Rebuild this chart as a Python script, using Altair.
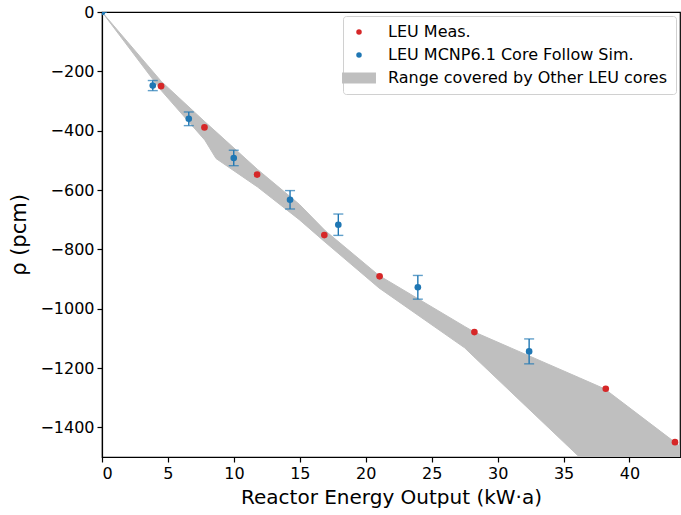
import altair as alt
import pandas as pd

# LEU measured points
meas_x = [4.48, 7.77, 11.76, 16.86, 21.05, 28.24, 38.2, 43.45]
meas_y = [-250, -389, -548, -752, -891, -1079, -1270, -1450]

# MCNP6.1 core follow simulation with error bars
sim_x = [0.0, 3.85, 6.58, 9.99, 14.26, 17.92, 23.95, 32.39]
sim_y = [0, -248, -360, -492, -633, -717, -928, -1144]
sim_err = [0, 17, 23, 26, 31, 36, 40, 42]

# Range covered by other LEU cores (band)
band_x = [0, 4.5, 7.8, 8.65, 11.8, 14.96, 16.9, 21.0, 27.5, 28.2, 36.2, 38.1, 43.4, 44.0]
band_upper = [0, -234, -370, -404, -531, -648, -736, -888, -1060, -1078, -1233, -1270, -1449, -1470]
band_lower = [0, -265, -432, -494, -590, -700, -775, -930, -1132, -1162, -1500, -1581, -1807, -1834]

labels = ["LEU Meas.", "LEU MCNP6.1 Core Follow Sim.", "Range covered by Other LEU cores"]
colors = ["#d62728", "#1f77b4", "#bfbfbf"]
x_ticks = [0, 5, 10, 15, 20, 25, 30, 35, 40]
y_ticks = [0, -200, -400, -600, -800, -1000, -1200, -1400]

FONT = "DejaVu Sans"

pts = pd.DataFrame({
    "x": meas_x + sim_x,
    "y": meas_y + sim_y,
    "series": [labels[0]] * len(meas_x) + [labels[1]] * len(sim_x),
})
sim = pd.DataFrame({"x": sim_x, "y": sim_y, "err": sim_err})
sim["lo"] = sim["y"] - sim["err"]
sim["hi"] = sim["y"] + sim["err"]
band = pd.DataFrame({"x": band_x, "up": band_upper, "lo": band_lower})

xs = alt.Scale(domain=[0, 43.83], nice=False, zero=False)
ys = alt.Scale(domain=[-1500, 0], nice=False, zero=False)

xax = alt.Axis(values=x_ticks, title="Reactor Energy Output (kW·a)", grid=False,
               format="d", tickSize=5, labelPadding=3, titlePadding=6)
yax = alt.Axis(values=y_ticks, title="ρ (pcm)", grid=False, format="d",
               tickSize=5, labelPadding=3, titlePadding=10)

area = alt.Chart(band).mark_area(clip=True, color="#bfbfbf", opacity=1,
                                 stroke="#bfbfbf", strokeWidth=1).encode(
    x=alt.X("x:Q", scale=xs, axis=xax),
    y=alt.Y("up:Q", scale=ys, axis=yax),
    y2="lo:Q",
)

rules = alt.Chart(sim).mark_rule(color="#1f77b4", strokeWidth=1.4, clip=True).encode(
    x="x:Q", y="lo:Q", y2="hi:Q"
)
caps_lo = alt.Chart(sim).mark_tick(color="#1f77b4", orient="horizontal", size=10,
                                   thickness=1.4, clip=True).encode(x="x:Q", y="lo:Q")
caps_hi = alt.Chart(sim).mark_tick(color="#1f77b4", orient="horizontal", size=10,
                                   thickness=1.4, clip=True).encode(x="x:Q", y="hi:Q")

points = alt.Chart(pts).mark_point(filled=True, opacity=1, clip=True, size=44).encode(
    x="x:Q",
    y="y:Q",
    color=alt.Color("series:N", scale=alt.Scale(domain=labels, range=colors),
                    legend=alt.Legend(title=None, orient="top-right", symbolSize=30)),
    shape=alt.Shape("series:N", scale=alt.Scale(
        domain=labels, range=["circle", "circle", "M-6.2,-2H6.2V2H-6.2Z"]),
        legend=alt.Legend(title=None, orient="top-right", symbolSize=30)),
)

chart = alt.layer(area, rules, caps_lo, caps_hi, points).properties(
    width=578, height=445,
    autosize=alt.AutoSizeParams(type="none"),
    padding={"left": 102, "top": 12, "right": 1, "bottom": 58},
).configure_view(stroke="#000", strokeWidth=1.2).configure_axis(
    labelFont=FONT, titleFont=FONT, labelFontSize=16, titleFontSize=20,
    labelColor="#000", titleColor="#000", titleFontWeight="normal",
    domainColor="#000", tickColor="#000", domainWidth=1.2, tickWidth=1.2,
).configure_axisY(titleFontSize=21).configure_legend(
    labelFont=FONT, labelFontSize=16, labelColor="#000",
    fillColor="white", strokeColor="#d0d0d0", cornerRadius=3,
    padding=8, rowPadding=7, labelOffset=21, offset=4,
    symbolStrokeWidth=0, labelLimit=400, symbolSize=30,
)

chart.save("out.html", embed_options={"renderer": "svg", "actions": False})
